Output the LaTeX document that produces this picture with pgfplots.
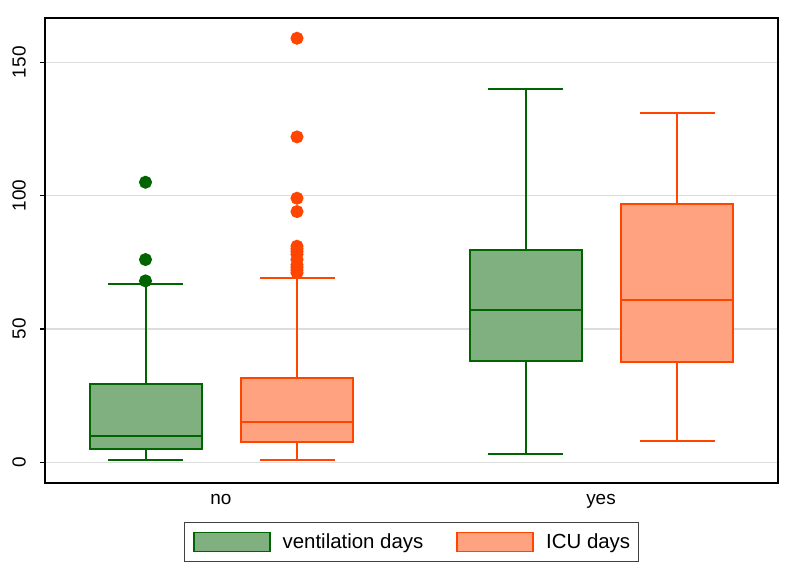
\documentclass[border=0pt]{standalone}
\usepackage{pgfplots}
\pgfplotsset{compat=1.18}
\usepgfplotslibrary{statistics}
\usepackage{fontspec}
\setmainfont{Liberation Sans}
\definecolor{vline}{RGB}{0,100,0}
\definecolor{vfill}{RGB}{128,176,128}
\definecolor{iline}{RGB}{255,69,0}
\definecolor{ifill}{RGB}{255,162,128}
\definecolor{gridc}{RGB}{220,220,220}
\begin{document}
\begin{tikzpicture}
\begin{axis}[
 at={(45bp,91bp)}, anchor=south west,
 scale only axis, width=733bp, height=465bp,
 xmin=0, xmax=733, ymin=-7.8, ymax=166.6,
 boxplot/draw direction=y,
 boxplot/every box/.style={line width=2bp},
 boxplot/every median/.style={line width=2bp},
 boxplot/every whisker/.style={line width=2bp},
 xtick={176,556}, xticklabels={no,yes},
 xtick pos=bottom, ytick pos=left,
 x tick style={draw=none},
 ytick={0,50,100,150},
 ymajorgrids, grid style={gridc, line width=1.3bp},
 y tick style={black, line width=1.3bp}, tick align=outside, major tick length=5bp,
 axis line style={line width=1.8bp},
 tick label style={font=\fontsize{19}{22}\selectfont},
 /pgf/number format/assume math mode=true,
 yticklabel style={rotate=90, anchor=south, inner sep=0pt, yshift=14bp},
 xticklabel style={inner sep=0pt, yshift=-6bp},
 legend style={at={(axis description cs:0.5,-0.1269)}, anchor=center, legend columns=-1,
   draw=black!75, line width=1bp, inner xsep=8bp, inner ysep=9.5bp,
   font=\fontsize{20.5}{24}\selectfont,
   /tikz/every odd column/.append style={column sep=12bp},
   /tikz/every even column/.append style={column sep=33bp},
   nodes={inner sep=0pt, anchor=west}},
]
\addlegendimage{legend image code/.code={\draw[draw=vline, fill=vfill, line width=1.8bp] (0bp,-9.5bp) rectangle (76bp,9.5bp);}}
\addlegendentry{ventilation days}
\addlegendimage{legend image code/.code={\draw[draw=iline, fill=ifill, line width=1.8bp] (0bp,-9.5bp) rectangle (76bp,9.5bp);}}
\addlegendentry{ICU days}

\addplot[forget plot, boxplot prepared={draw position=100.5, lower whisker=1, lower quartile=5, median=10, upper quartile=29.5, upper whisker=67, box extend=112, whisker extend=75},
  draw=vline, fill=vfill, line width=2bp, mark=*, mark size=5.5bp, mark options={fill=vline, draw=vline}]
  table[row sep=\\, y index=0] {68\\76\\105\\};
\addplot[forget plot, boxplot prepared={draw position=252, lower whisker=1, lower quartile=7.4, median=15, upper quartile=31.7, upper whisker=69, box extend=112, whisker extend=75},
  draw=iline, fill=ifill, line width=2bp, mark=*, mark size=5.5bp, mark options={fill=iline, draw=iline}]
  table[row sep=\\, y index=0] {71\\72\\73\\74\\76\\78\\79\\80\\81\\94\\99\\122\\159\\};
\addplot[forget plot, boxplot prepared={draw position=480.7, lower whisker=3, lower quartile=38.1, median=57, upper quartile=79.6, upper whisker=140, box extend=112, whisker extend=75},
  draw=vline, fill=vfill, line width=2bp] coordinates {};
\addplot[forget plot, boxplot prepared={draw position=632, lower whisker=8, lower quartile=37.4, median=61, upper quartile=96.7, upper whisker=131, box extend=112, whisker extend=75},
  draw=iline, fill=ifill, line width=2bp] coordinates {};
\end{axis}
\pgfresetboundingbox
\path (0,0) rectangle (793bp,574bp);
\end{tikzpicture}
\end{document}
